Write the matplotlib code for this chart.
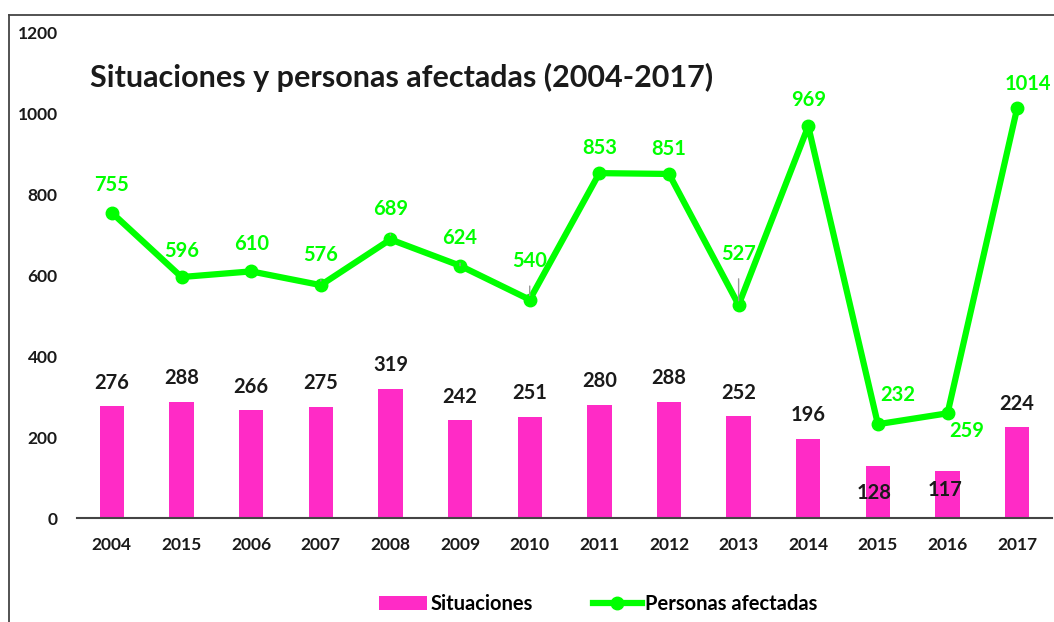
import matplotlib.pyplot as plt
from matplotlib.lines import Line2D

years = ["2004", "2015", "2006", "2007", "2008", "2009", "2010",
         "2011", "2012", "2013", "2014", "2015", "2016", "2017"]
situaciones = [276, 288, 266, 275, 319, 242, 251, 280, 288, 252, 196, 128, 117, 224]
personas = [755, 596, 610, 576, 689, 624, 540, 853, 851, 527, 969, 232, 259, 1014]

# label offsets in points (dx, dy) for the green series
p_offsets = [(0, 20), (0, 19), (0, 20), (0, 22), (0, 22), (0, 20), (0, 28),
             (0, 18), (0, 18), (0, 37), (0, 19), (14, 21), (14, -13), (8, 17)]
p_leader = [False, False, False, True, True, True, True,
            False, False, True, False, False, False, False]
s_offsets = [(0, 17)] * 11 + [(-3, -19), (-2, -14), (0, 17)]

pink = "#FF2BC6"
green = "#00FF00"
font = "Lato"

plt.rcParams["font.family"] = [font, "DejaVu Sans"]

fig = plt.figure(figsize=(10.54, 6.22), dpi=100)
ax = fig.add_axes([0.0731, 0.1672, 0.925, 0.78])

x = list(range(len(years)))
ax.bar(x, situaciones, width=0.35, color=pink, label="Situaciones", zorder=2)
ax.plot(x, personas, color=green, linewidth=4.5, marker="o", markersize=9,
        label="Personas afectadas", zorder=3)

for i, v in enumerate(situaciones):
    dx, dy = s_offsets[i]
    ax.annotate(str(v), (i, v), xytext=(dx, dy), textcoords="offset points",
                ha="center", va="center", fontsize=14.5, fontweight="bold",
                color="#1a1a1a", zorder=4)

for i, v in enumerate(personas):
    dx, dy = p_offsets[i]
    props = None
    if p_leader[i]:
        props = dict(arrowstyle="-", color="#999999", lw=1, shrinkA=9, shrinkB=3)
    ax.annotate(str(v), (i, v), xytext=(dx, dy), textcoords="offset points",
                ha="center", va="center", fontsize=14.5, fontweight="bold",
                color=green, arrowprops=props, zorder=4)

ax.set_xlim(-0.5, len(years) - 0.5)
ax.set_ylim(0, 1200)
ax.set_yticks(range(0, 1201, 200))
ax.set_xticks(x)
ax.set_xticklabels(years)
for lab in ax.get_xticklabels() + ax.get_yticklabels():
    lab.set_fontweight("bold")
    lab.set_fontsize(12.5)
    lab.set_color("#1a1a1a")
ax.tick_params(axis="both", length=0)
ax.tick_params(axis="x", pad=14)
ax.tick_params(axis="y", pad=14)

for side in ["top", "right", "left"]:
    ax.spines[side].set_visible(False)
ax.spines["bottom"].set_color("#444444")
ax.spines["bottom"].set_linewidth(1.5)

fig.text(90 / 1054, 1 - 77 / 622, "Situaciones y personas afectadas (2004-2017)",
         fontsize=22, fontweight="bold", color="#1a1a1a", va="center", ha="left")

handles, labels = ax.get_legend_handles_labels()
order = [labels.index("Situaciones"), labels.index("Personas afectadas")]
fig.legend([handles[k] for k in order], [labels[k] for k in order],
           loc="center", bbox_to_anchor=(598 / 1054, 1 - 604 / 622), ncol=2,
           frameon=False, handlelength=2.4, handleheight=0.7, columnspacing=3.0,
           handletextpad=0.15, prop={"weight": "bold", "size": 14.5})

# outer frame (top and left edges)
fig.add_artist(Line2D([9 / 1054, 1], [1 - 15 / 622, 1 - 15 / 622],
                      transform=fig.transFigure, color="#444444", lw=1.3))
fig.add_artist(Line2D([9 / 1054, 9 / 1054], [0, 1 - 15 / 622],
                      transform=fig.transFigure, color="#444444", lw=1.3))

fig.savefig("out.png", dpi=100)
